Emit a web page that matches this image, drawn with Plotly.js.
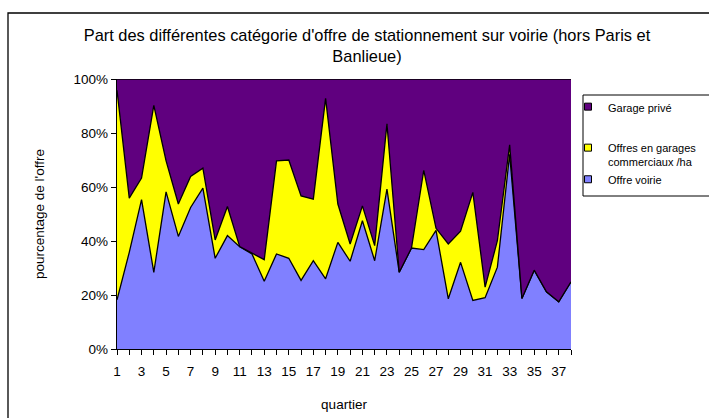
<!DOCTYPE html>
<html>
<head>
<meta charset="utf-8">
<script src="https://cdn.plot.ly/plotly-3.0.1.min.js"></script>
<style>html,body{margin:0;padding:0;background:#fff;}#chart{width:709px;height:418px;}</style>
</head>
<body>
<div id="chart"></div>
<script>
var quartiers = [1,2,3,4,5,6,7,8,9,10,11,12,13,14,15,16,17,18,19,20,21,22,23,24,25,26,27,28,29,30,31,32,33,34,35,36,37,38];
var tickLabels = ["1","","3","","5","","7","","9","","11","","13","","15","","17","","19","","21","","23","","25","","27","","29","","31","","33","","35","","37",""];
var offreVoirie = [18.2,35.8,55.3,28.4,58.2,41.7,52.4,59.6,33.6,42.0,37.9,35.2,25.1,35.2,33.6,25.4,32.7,26.0,39.5,32.5,47.5,32.7,59.2,28.4,37.4,36.8,43.9,18.6,32.1,18.0,19.0,30.3,72.1,18.7,29.2,21.2,17.5,24.9];
var garagesCommerciaux = [77.6,20.1,8.0,61.8,11.5,12.0,11.5,7.4,6.8,10.8,0,0.2,8.0,34.5,36.4,31.3,22.8,66.8,14.2,6.4,5.5,5.6,24.2,0,0,29.4,0.8,20.3,11.5,40.0,3.9,9.8,3.5,0,0,0,0,0];
var garagePrive = [4.2,44.1,36.7,9.8,30.3,46.3,36.1,33.0,59.6,47.2,62.1,64.6,66.9,30.3,30.0,43.3,44.5,7.2,46.3,61.1,47.0,61.7,16.6,71.6,62.6,33.8,55.3,61.1,56.4,42.0,77.1,59.9,24.4,81.3,70.8,78.8,82.5,75.1];
var seriesNames = ["Offre voirie", "Offres en garages<br>commerciaux /ha", "Garage privé"];
var seriesColors = ["#8080FF", "#FFFF00", "#60007F"];

var FONT = "Liberation Sans, Arial, sans-serif";
var values = [offreVoirie, garagesCommerciaux, garagePrive];
var data = [];
for (var i = 0; i < 3; i++) {
  data.push({
    type: "scatter", mode: "lines", x: quartiers, y: values[i],
    stackgroup: "one", fillcolor: seriesColors[i],
    line: {color: "#000000", width: 1.3},
    showlegend: false, hoverinfo: "x+y"
  });
}
// legend entries (Garage privé first)
var legOrder = [2, 1, 0];
for (var k = 0; k < 3; k++) {
  var j = legOrder[k];
  data.push({
    type: "scatter", mode: "markers", x: [null], y: [null],
    name: seriesNames[j], legendgroup: (j === 2 ? "a" : "b"),
    marker: {symbol: "square", size: 7, color: seriesColors[j], line: {color: "#000000", width: 1}},
    showlegend: true
  });
}

var W = 454, H = 270, L = 117, T = 79;
function px(x) { return (x - L) / W; }
function py(y) { return (T + H - y) / H; }

var layout = {
  width: 709, height: 418,
  margin: {l: 117, r: 138, t: 79, b: 69, autoexpand: false},
  paper_bgcolor: "#ffffff", plot_bgcolor: "#ffffff",
  font: {family: FONT, size: 13.5, color: "#000000"},
  title: {
    text: "Part des différentes catégorie d'offre de stationnement sur voirie (hors Paris et<br>Banlieue)",
    font: {family: FONT, size: 16.4, color: "#000000"},
    x: 367 / 709, xref: "container", xanchor: "center",
    y: 1 - 41 / 418, yref: "container", yanchor: "top"
  },
  xaxis: {
    range: [1, 38], tickmode: "array", tickvals: quartiers, ticktext: tickLabels,
    ticks: "outside", ticklen: 5, tickcolor: "#000000", tickwidth: 1,
    ticklabelstandoff: 4,
    showline: true, linecolor: "#000000", linewidth: 1.3,
    showgrid: false, zeroline: false, tickangle: 0,
    tickfont: {family: FONT, size: 13.5},
    title: {text: "quartier", font: {family: FONT, size: 13.5}, standoff: 22}
  },
  yaxis: {
    range: [0, 100], dtick: 20, tick0: 0, ticksuffix: "%",
    ticks: "outside", ticklen: 5, tickcolor: "#000000", tickwidth: 1,
    showline: true, linecolor: "#000000", linewidth: 1.3,
    showgrid: false, zeroline: false,
    tickfont: {family: FONT, size: 13.5},
    title: {text: "pourcentage de l'offre", font: {family: FONT, size: 13.5}, standoff: 25}
  },
  showlegend: true,
  legend: {
    x: px(568), xanchor: "left", y: py(93), yanchor: "top",
    bgcolor: "rgba(0,0,0,0)", borderwidth: 0,
    font: {family: FONT, size: 11, color: "#000000"},
    traceorder: "grouped", tracegroupgap: 22, valign: "top"
  },
  shapes: [
    {type: "rect", xref: "paper", yref: "paper", x0: px(8), x1: px(730), y0: py(440), y1: py(13),
     line: {color: "#000000", width: 1.3}, fillcolor: "rgba(0,0,0,0)", layer: "below"},
    {type: "rect", xref: "paper", yref: "paper", x0: px(583), x1: px(730), y0: py(196), y1: py(95),
     line: {color: "#000000", width: 1}, fillcolor: "#ffffff", layer: "below"}
  ]
};

Plotly.newPlot("chart", data, layout, {displayModeBar: false, staticPlot: true});
</script>
</body>
</html>
